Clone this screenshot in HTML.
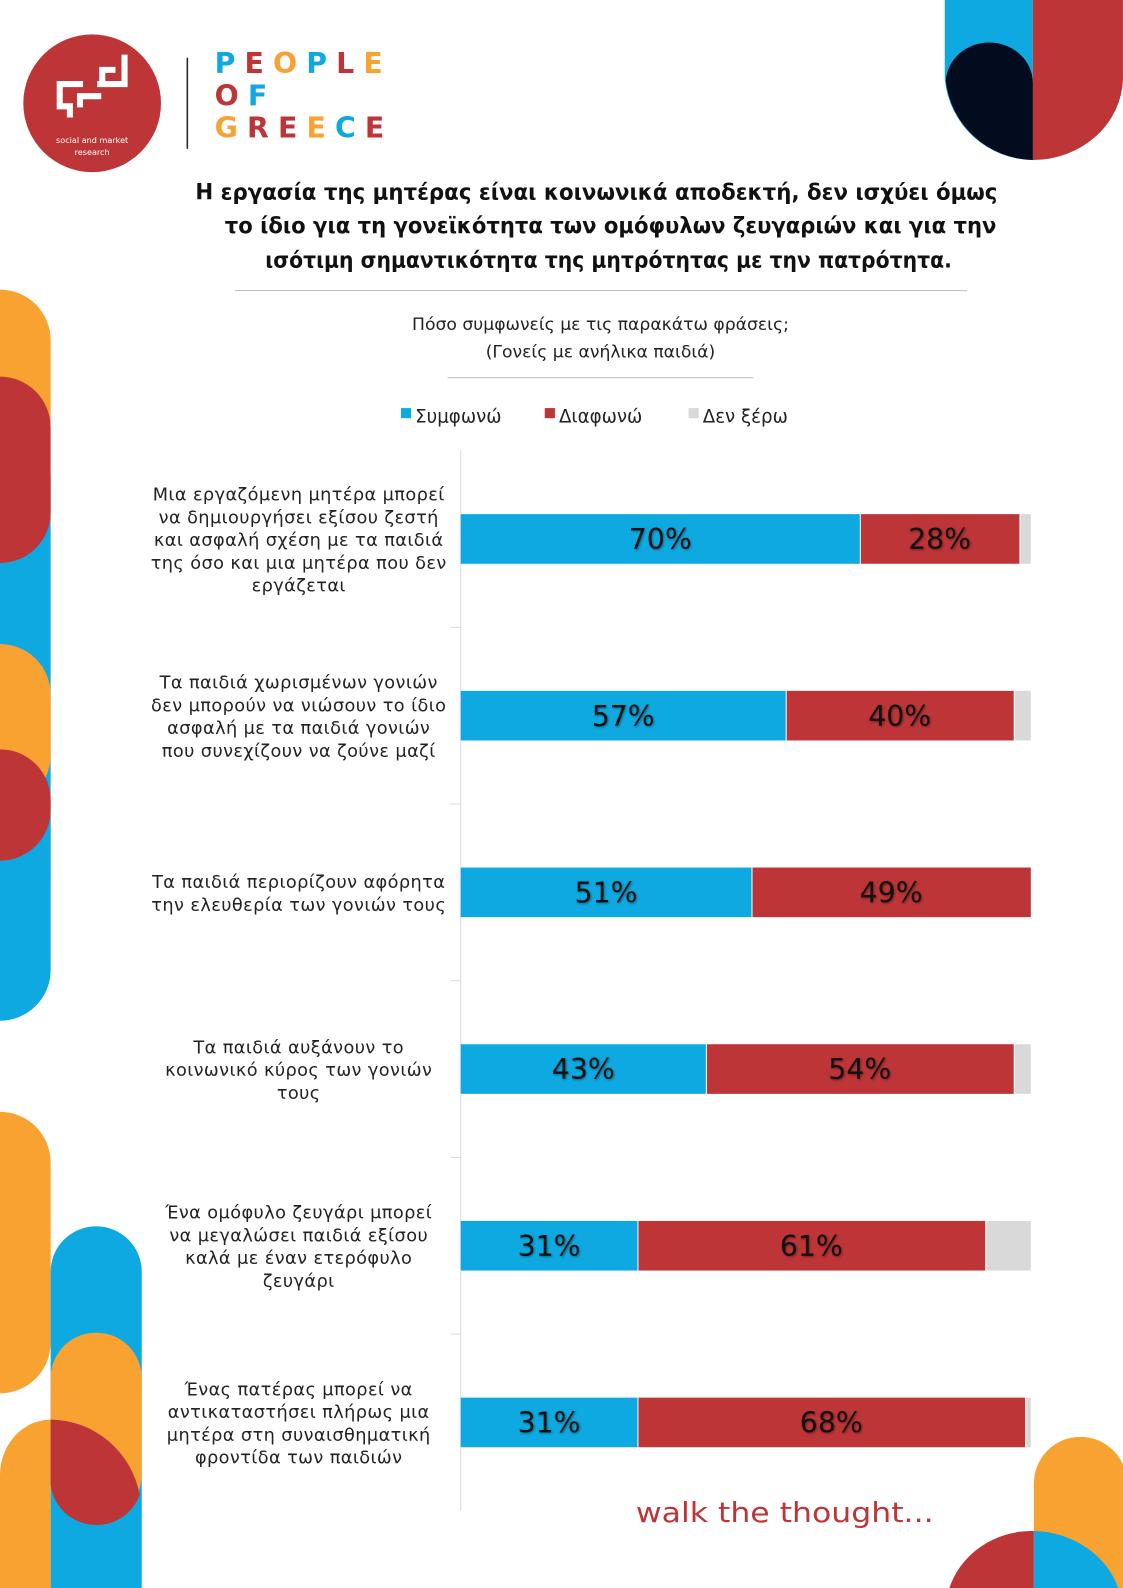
<!DOCTYPE html>
<html><head><meta charset="utf-8">
<style>
body{margin:0;background:#fff;}
#outer{position:relative;width:1123px;height:1588px;overflow:hidden;}
#root{position:absolute;left:0;top:0;width:1109px;height:1568px;transform:scale(1.0126);transform-origin:0 0;font-family:"DejaVu Sans","Liberation Sans",sans-serif;}
svg text{font-family:"DejaVu Sans","Liberation Sans",sans-serif;}
</style></head>
<body>
<div id="outer">
<div id="root">
<svg id="deco" width="1109" height="1570" style="position:absolute;left:0;top:0">
  <g>
    <path d="M933 0 H1020 V158 A88 88 0 0 1 933 78 Z" fill="#0EA9E0"/>
    <path d="M1020 0 H1109 V78 A89 82 0 0 1 1020 158 Z" fill="#BD3537"/>
    <path d="M1020 158 A88 88 0 0 1 934 80 A43 40 0 0 1 977 42 A43 40 0 0 1 1020 82 Z" fill="#030C1F"/>
  </g>
  <g>
    <rect x="-50" y="755" width="100" height="253" rx="50" fill="#0EA9E0"/>
    <rect x="0" y="470" width="50" height="400" fill="#0EA9E0"/>
    <rect x="-50" y="286" width="100" height="180" rx="50" fill="#F8A231"/>
    <rect x="-50" y="372" width="100" height="184" rx="50" fill="#BD3537"/>
    <rect x="-50" y="636" width="100" height="160" rx="50" fill="#F8A231"/>
    <rect x="-50" y="740" width="100" height="110" rx="50" fill="#BD3537"/>
  </g>
  <g transform="translate(0,-14)">
    <rect x="-50" y="1112" width="100" height="278" rx="50" fill="#F8A231"/>
    <rect x="50" y="1225" width="90" height="400" rx="45" fill="#0EA9E0"/>
    <rect x="50" y="1330" width="90" height="185" rx="45" fill="#F8A231"/>
    <path d="M0 1600 V1470 A50 55 0 0 1 50 1416 V1600 Z" fill="#F8A231"/>
    <path d="M50 1416 A90 92 0 0 1 138 1490 A45 45 0 0 1 95 1520 A45 45 0 0 1 50 1480 Z" fill="#BD3537"/>
  </g>
  <g transform="translate(0,-18)">
    <rect x="1021" y="1437" width="92" height="200" rx="46" fill="#F8A231"/>
    <path d="M937 1600 V1588 A85 80 0 0 1 1021 1530 V1600 Z" fill="#BD3537"/>
    <path d="M1021 1530 A90 82 0 0 1 1105 1588 V1600 H1021 Z" fill="#0EA9E0"/>
  </g>
  <g>
    <circle cx="91" cy="102" r="68" fill="#BD3537"/>
    <path d="M56 80 h26 v6 h-20 v16 h10 v14 h-6 v-8 h-10 Z M76 92 h24 v6 h-18 v8 h-6 Z M96 80 h24 v-26 h6 v32 h-30 Z M98 66 h16 v6 h-10 v10 h-6 Z" fill="#fff"/>
    <text x="91" y="141" font-size="8" fill="#fff" text-anchor="middle">social and market</text>
    <text x="91" y="153" font-size="8" fill="#fff" text-anchor="middle">research</text>
  </g>
  <line x1="185" y1="57" x2="185" y2="147" stroke="#222" stroke-width="1.5"/>
  <g font-weight="bold" font-size="28" letter-spacing="9">
    <text x="212" y="72" fill="#0EA9E0">P<tspan fill="#BD3537">E</tspan><tspan fill="#F8A231">O</tspan><tspan fill="#0EA9E0">P</tspan><tspan fill="#BD3537">L</tspan><tspan fill="#F8A231">E</tspan></text>
    <text x="212" y="104" fill="#BD3537">O<tspan fill="#0EA9E0">F</tspan></text>
    <text x="212" y="136" fill="#F8A231">G<tspan fill="#BD3537">R</tspan><tspan fill="#BD3537">E</tspan><tspan fill="#F8A231">E</tspan><tspan fill="#0EA9E0">C</tspan><tspan fill="#BD3537">E</tspan></text>
  </g>
  <g font-size="22" font-weight="bold" fill="#111">
    <text x="193" y="197" textLength="792" lengthAdjust="spacingAndGlyphs">Η εργασία της μητέρας είναι κοινωνικά αποδεκτή, δεν ισχύει όμως</text>
    <text x="222" y="230" textLength="762" lengthAdjust="spacingAndGlyphs">το ίδιο για τη γονεϊκότητα των ομόφυλων ζευγαριών και για την</text>
    <text x="262" y="264" textLength="678" lengthAdjust="spacingAndGlyphs">ισότιμη σημαντικότητα της μητρότητας με την πατρότητα.</text>
  </g>
  <line x1="232" y1="287" x2="955" y2="287" stroke="#bbb"/>
  <g font-size="17" fill="#222" text-anchor="middle">
    <text x="593" y="326">Πόσο συμφωνείς με τις παρακάτω φράσεις;</text>
    <text x="593" y="353">(Γονείς με ανήλικα παιδιά)</text>
  </g>
  <line x1="442" y1="373" x2="744" y2="373" stroke="#bbb"/>
  <g font-size="18" fill="#222">
    <rect x="396" y="403" width="10" height="10" fill="#0EA9E0"/>
    <text x="410" y="417">Συμφωνώ</text>
    <rect x="538" y="403" width="10" height="10" fill="#BD3537"/>
    <text x="552" y="417">Διαφωνώ</text>
    <rect x="680" y="403" width="10" height="10" fill="#D9D9D9"/>
    <text x="694" y="417">Δεν ξέρω</text>
  </g>
  <text x="775" y="1503" font-size="27" fill="#BD3537" text-anchor="middle" textLength="294" lengthAdjust="spacingAndGlyphs">walk the thought...</text>
</svg>
<svg id="chart" width="1109" height="1570" style="position:absolute;left:0;top:0"></svg>
</div></div>
<script>
const categories=[
 ["Μια εργαζόμενη μητέρα μπορεί","να δημιουργήσει εξίσου ζεστή","και ασφαλή σχέση με τα παιδιά","της όσο και μια μητέρα που δεν","εργάζεται"],
 ["Τα παιδιά χωρισμένων γονιών","δεν μπορούν να νιώσουν το ίδιο","ασφαλή με τα παιδιά γονιών","που συνεχίζουν να ζούνε μαζί"],
 ["Τα παιδιά περιορίζουν αφόρητα","την ελευθερία των γονιών τους"],
 ["Τα παιδιά αυξάνουν το","κοινωνικό κύρος των γονιών","τους"],
 ["Ένα ομόφυλο ζευγάρι μπορεί","να μεγαλώσει παιδιά εξίσου","καλά με έναν ετερόφυλο","ζευγάρι"],
 ["Ένας πατέρας μπορεί να","αντικαταστήσει πλήρως μια","μητέρα στη συναισθηματική","φροντίδα των παιδιών"]
];
const agree=[70,57,51,43,31,31];
const disagree=[28,40,49,54,61,68];
const dontKnow=[2,3,0,3,8,1];
const NS="http://www.w3.org/2000/svg";
const svg=document.getElementById('chart');
const x0=455,x100=1018,top0=445,rowH=174.5,barH=49;
const xs=v=>x0+(x100-x0)*v/100;
const yc=i=>top0+rowH*i+rowH/2;
function el(t,a){const e=document.createElementNS(NS,t);for(const k in a)e.setAttribute(k,a[k]);svg.appendChild(e);return e;}
const ax=el('line',{x1:x0,y1:top0,x2:x0,y2:top0+rowH*6,stroke:'#d9d9d9'});


for(let i=1;i<6;i++){const t=el('line',{x1:x0-10,y1:top0+rowH*i,x2:x0,y2:top0+rowH*i,stroke:'#d9d9d9'});

}
const series=[[agree,'#0EA9E0','agree'],[disagree,'#BD3537','disagree'],[dontKnow,'#D9D9D9','dont-know']];
categories.forEach((lines,i)=>{
  const c=yc(i);
  const n=lines.length,lh=22.5;
  lines.forEach((ln,j)=>{
    const t=el('text',{x:295,y:c-(n-1)*lh/2+j*lh+7,'font-size':17.5,fill:'#222','text-anchor':'middle','letter-spacing':'0.4'});
    t.textContent=ln;
    
    
  });
  let acc=0;
  series.forEach(([arr,col,nm],s)=>{
    const v=arr[i];if(v<=0)return;
    const r=el('rect',{x:xs(acc)+(acc>0?1:0),y:c-barH/2,width:Math.max(0,xs(acc+v)-xs(acc)-(acc>0?1:0)),height:barH,fill:col});
    
    
    if(s<2&&v>=5){
      const t=el('text',{x:(xs(acc)+xs(acc+v))/2,y:c+10,'font-size':28,fill:'#111','text-anchor':'middle',style:'text-shadow:1px 1px 2px rgba(0,0,0,0.4)'});
      t.textContent=v+'%';
      
      
    }
    acc+=v;
  });
});
</script>
</body></html>
